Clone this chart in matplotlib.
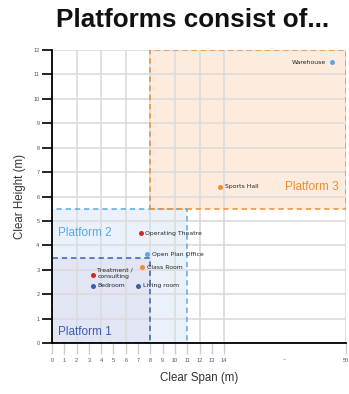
import matplotlib.pyplot as plt
import numpy as np
from matplotlib.patches import Rectangle

# building types: clear span (m), clear height (m)
names = ["Warehouse", "Sports Hall", "Operating Theatre", "Open Plan Office",
         "Class Room", "Treatment /\nconsulting", "Bedroom", "Living room"]
span = [46, 13.7, 7.2, 7.7, 7.3, 3.3, 3.3, 7.0]
height = [11.5, 6.4, 4.5, 3.65, 3.1, 2.8, 2.35, 2.35]
kind = ["blue", "orange", "red", "blue", "orange", "red", "navy", "navy"]

# platforms: span range, height range
plat_names = ["Platform 2", "Platform 1", "Platform 3"]
plat_x0 = [0, 0, 8]
plat_x1 = [11, 8, 50]
plat_y0 = [0, 0, 5.5]
plat_y1 = [5.5, 3.5, 12]

xticks = list(range(0, 15)) + [50]
yticks = list(range(0, 13))

colors = {"blue": "#5ba8e2", "orange": "#f08c33", "red": "#d3262b", "navy": "#3b5cb2"}
plat_fill = {"Platform 1": "#e2e5f3", "Platform 2": "#ebf1fb", "Platform 3": "#fdecdd"}
plat_edge = {"Platform 1": "#3b5cb2", "Platform 2": "#5ba8e2", "Platform 3": "#f08c33"}

BREAK = 14
K = 0.275


def fwd(x):
    x = np.asarray(x, dtype=float)
    return np.where(x <= BREAK, x, BREAK + (x - BREAK) * K)


def inv(t):
    t = np.asarray(t, dtype=float)
    return np.where(t <= BREAK, t, BREAK + (t - BREAK) / K)


plt.rcParams['font.family'] = ['Liberation Sans', 'DejaVu Sans']

fig = plt.figure(figsize=(3.49, 3.94), dpi=100)
ax = fig.add_axes([0.149, 0.129, 0.842, 0.744])
ax.set_xscale('function', functions=(fwd, inv))
ax.set_xlim(0, 50)
ax.set_ylim(0, 12)

# grid
for y in yticks:
    ax.axhline(y, color="#dcdcdc", lw=1.2, zorder=0.5)
for x in list(range(0, 15, 2)) + [50]:
    ax.axvline(x, color="#dcdcdc", lw=1.2, zorder=0.5)

# platforms
for i, p in enumerate(plat_names):
    ax.add_patch(Rectangle((plat_x0[i], plat_y0[i]), plat_x1[i] - plat_x0[i],
                           plat_y1[i] - plat_y0[i], facecolor=plat_fill[p],
                           edgecolor="none", zorder=0.2 + i * 0.01))
for i, p in enumerate(plat_names):
    ax.add_patch(Rectangle((plat_x0[i], plat_y0[i]), plat_x1[i] - plat_x0[i],
                           plat_y1[i] - plat_y0[i], facecolor="none",
                           edgecolor=plat_edge[p], lw=1.1, linestyle=(0, (3.5, 2.5)),
                           zorder=1.5))

ax.text(0.5, 4.5, "Platform 2", color=plat_edge["Platform 2"], fontsize=8.5, va="center", zorder=3)
ax.text(0.5, 0.45, "Platform 1", color=plat_edge["Platform 1"], fontsize=8.5, va="center", zorder=3)
ax.text(32, 6.4, "Platform 3", color=plat_edge["Platform 3"], fontsize=8.5, va="center", zorder=3)

# points
for i in range(len(names)):
    ax.scatter(span[i], height[i], s=13, color=colors[kind[i]], zorder=4, linewidths=0)
    if names[i] == "Warehouse":
        ax.annotate(names[i], (span[i], height[i]), xytext=(-4.5, 0), textcoords="offset points",
                    fontsize=4.4, va="center", ha="right", color="#222222", zorder=4,
                    family="DejaVu Sans")
    else:
        dy = 1 if "\n" in names[i] else 0
        ax.annotate(names[i], (span[i], height[i]), xytext=(3.5, dy), textcoords="offset points",
                    fontsize=4.4, va="center", ha="left", color="#222222", zorder=4,
                    linespacing=1.35, family="DejaVu Sans")

ax.set_xticks(xticks)
ax.set_xticklabels([str(v) for v in xticks])
ax.set_yticks(yticks)
ax.tick_params(axis="x", length=8, width=1, color="#cccccc", labelsize=4,
               labelcolor="#4a5170", pad=3)
ax.tick_params(axis="y", length=7, width=1.2, color="black", labelsize=4,
               labelcolor="#4a5170", pad=2)
ax.minorticks_off()
ax.text(32, -0.62, "...", fontsize=4, color="#4a5170", ha="center", va="center")

for s in ["top", "right"]:
    ax.spines[s].set_visible(False)
ax.spines["left"].set_linewidth(1.3)
ax.spines["bottom"].set_linewidth(1.3)
ax.spines["left"].set_zorder(5)
ax.spines["bottom"].set_zorder(5)

ax.set_xlabel("Clear Span (m)", fontsize=8.3, color="#333333", labelpad=6)
ax.set_ylabel("Clear Height (m)", fontsize=8.3, color="#333333", labelpad=5)

fig.text(0.553, 0.948, "Platforms consist of...", fontsize=18.8, fontweight="bold",
         ha="center", va="center", color="#111111")

fig.savefig("out.png", dpi=100)
